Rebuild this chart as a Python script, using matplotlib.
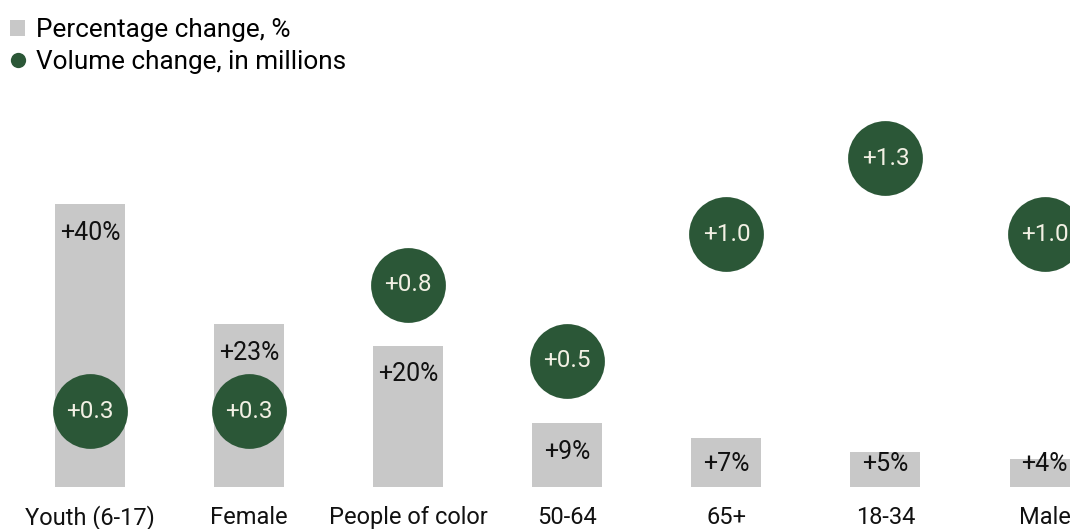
import matplotlib.pyplot as plt
from matplotlib.lines import Line2D
from matplotlib.patches import Patch

# data
groups = ['Youth (6-17)', 'Female', 'People of color', '50-64', '65+', '18-34', 'Male']
pct_change = [40, 23, 20, 9, 7, 5, 4]
vol_change = [0.3, 0.3, 0.8, 0.5, 1.0, 1.3, 1.0]

bar_color = '#c8c8c8'
dot_color = '#2b5737'
txt_color = '#111111'

plt.rcParams['font.family'] = ['Roboto', 'DejaVu Sans']

fig = plt.figure(figsize=(10.7, 5.29), dpi=100)
ax = fig.add_axes([0, 0, 1, 1])
x = list(range(len(groups)))

ax.bar(x, pct_change, width=0.44, color=bar_color, zorder=1)
ax.set_xlim(-0.566, 6.16)
ax.set_ylim(-5.94, 68.9)
ax.axis('off')

# bar labels, kept inside the bar top (or near the baseline for short bars)
for xi, v in zip(x, pct_change):
    ax.text(xi, max(v - 4.0, 3.3), f'+{v}%', ha='center', va='center',
            fontsize=18, color=txt_color, zorder=2)

# category labels
for xi, g in zip(x, groups):
    ax.text(xi, -4.3, g, ha='center', va='center', fontsize=17, color=txt_color)

# volume circles on their own scale
ax2 = fig.add_axes([0, 0, 1, 1], sharex=ax)
ax2.set_ylim(-0.166, 1.925)
ax2.axis('off')
ax2.scatter(x, vol_change, s=2900, color=dot_color, zorder=3, linewidths=0)
for xi, v in zip(x, vol_change):
    ax2.text(xi, v, f'+{v:.1f}', ha='center', va='center', fontsize=17.5,
             color='#f2f0e4', zorder=4)

handles = [
    Patch(facecolor=bar_color, edgecolor='none'),
    Line2D([], [], marker='o', linestyle='none', markersize=11,
           markerfacecolor=dot_color, markeredgecolor='none'),
]
fig.legend(handles, ['Percentage change, %', 'Volume change, in millions'],
           loc='upper left', bbox_to_anchor=(-0.008, 1.0), frameon=False,
           fontsize=18.8, handlelength=0.6, handleheight=0.6, handletextpad=0.4,
           labelspacing=0.3, borderaxespad=0.3)

fig.savefig('out.png', dpi=100)
